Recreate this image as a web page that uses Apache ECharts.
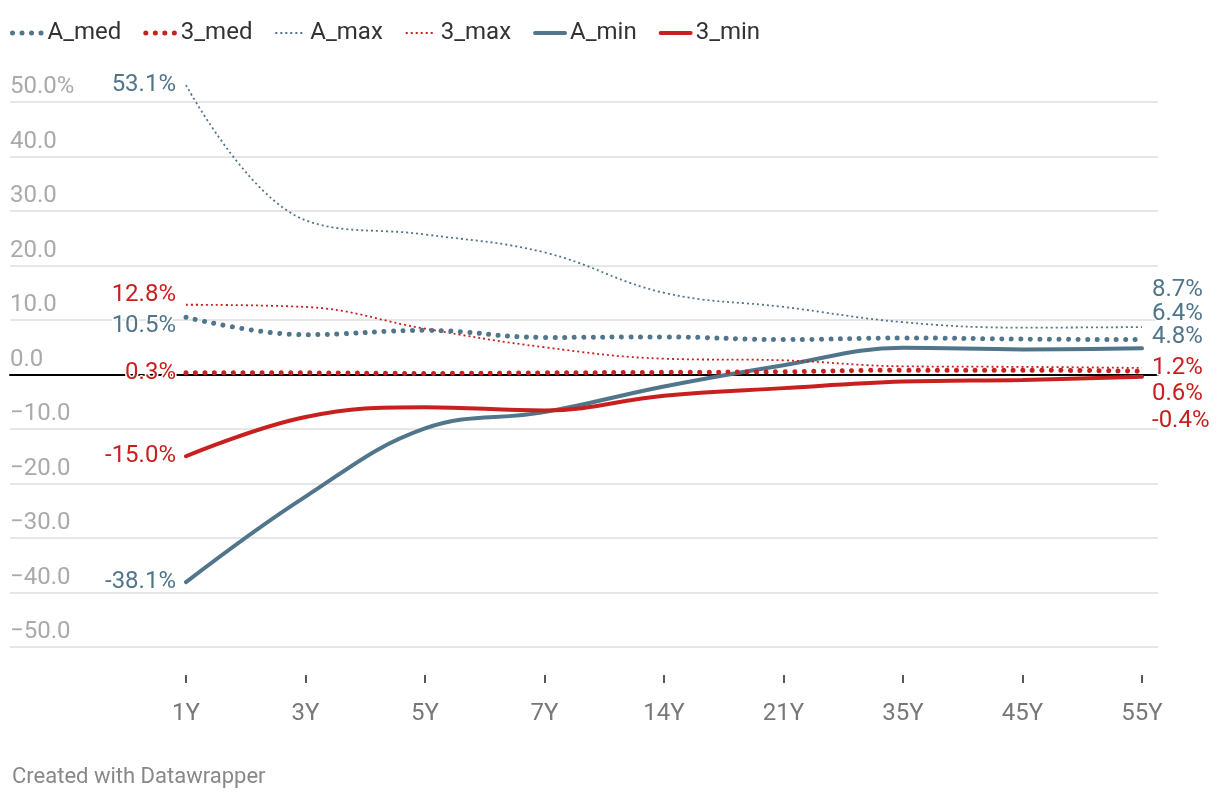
<!DOCTYPE html>
<html>
<head>
<meta charset="utf-8">
<script src="https://cdn.jsdelivr.net/npm/echarts@6/dist/echarts.min.js"></script>
<style>
html,body{margin:0;padding:0;background:#fff;}
#chart{width:1220px;height:802px;}
</style>
</head>
<body>
<div id="chart"></div>
<script>
const categories = ['1Y','3Y','5Y','7Y','14Y','21Y','35Y','45Y','55Y'];
const A_med = [10.5, 7.3, 8.1, 6.8, 6.9, 6.4, 6.7, 6.5, 6.4];
const med3  = [0.3, 0.3, 0.2, 0.3, 0.4, 0.5, 0.8, 0.8, 0.6];
const A_max = [53.1, 28.3, 25.7, 22.4, 15.0, 12.4, 9.6, 8.6, 8.7];
const max3  = [12.8, 12.4, 8.4, 5.0, 2.9, 2.6, 1.5, 1.4, 1.2];
const A_min = [-38.1, -22.4, -9.9, -6.9, -2.2, 1.7, 4.9, 4.6, 4.8];
const min3  = [-15.0, -7.8, -6.0, -6.6, -3.9, -2.5, -1.3, -1.0, -0.4];
const yTicks = [-50, -40, -30, -20, -10, 0, 10, 20, 30, 40, 50];

const BLUE = '#51758a';
const RED = '#c8201e';
const FONT = 'Roboto';
const FS = 24;

function lineStyleFor(kind, color) {
  if (kind === 'thickDot') return {color: color, width: 5, type: [0.01, 9.5], cap: 'round'};
  if (kind === 'thinDot') return {color: color, width: 1.8, type: [2, 3], cap: 'butt'};
  return {color: color, width: 4, type: 'solid', cap: 'round'};
}

function mkData(arr, startOff, endOff) {
  const last = arr.length - 1;
  return arr.map(function (v, i) {
    if (i === 0) return {value: v, label: {show: true, position: 'left', distance: 10, offset: [0, startOff]}};
    if (i === last) return {value: v, label: {show: true, position: 'right', distance: 10, offset: [0, endOff]}};
    return v;
  });
}

function mkSeries(name, arr, color, kind, startOff, endOff, z) {
  return {
    name: name, type: 'line', xAxisIndex: 1, yAxisIndex: 1,
    data: mkData(arr, startOff, endOff),
    smooth: 0.4, clip: false,
    symbol: 'circle', symbolSize: 0.001, showSymbol: true,
    itemStyle: {color: color},
    lineStyle: lineStyleFor(kind, color),
    z: z,
    label: {show: false, color: color, fontFamily: FONT, fontSize: FS,
      textBorderColor: '#fff', textBorderWidth: 3,
      formatter: function (p) { return p.value.toFixed(1) + '%'; }},
    emphasis: {disabled: true}
  };
}

const legendDefs = [
  ['A_med', BLUE, 'thickDot'], ['3_med', RED, 'thickDot'],
  ['A_max', BLUE, 'thinDot'], ['3_max', RED, 'thinDot'],
  ['A_min', BLUE, 'solid'], ['3_min', RED, 'solid']
];

const chart = echarts.init(document.getElementById('chart'), null, {renderer: 'canvas'});
chart.setOption({
  animation: false,
  backgroundColor: '#fff',
  textStyle: {fontFamily: FONT},
  title: {text: 'Created with Datawrapper', left: 7, top: 761,
    textStyle: {fontFamily: FONT, fontSize: 22, fontWeight: 'normal', color: '#888'}},
  legend: {
    left: 5, top: 16, itemWidth: 30, itemHeight: 14, itemGap: 22,
    itemStyle: {opacity: 0},
    textStyle: {fontFamily: FONT, fontSize: FS, color: '#333'},
    data: legendDefs.map(function (d) {
      return {name: d[0], lineStyle: lineStyleFor(d[2], d[1]), itemStyle: {opacity: 0}};
    })
  },
  grid: [
    {left: 10, right: 62, top: 102, bottom: 155},
    {left: 186, right: 78, top: 102, bottom: 155}
  ],
  xAxis: [
    {gridIndex: 0, type: 'value', min: 0, max: 1,
      axisLine: {show: true, onZero: true, lineStyle: {color: '#000', width: 2}},
      axisTick: {show: false}, axisLabel: {show: false}, splitLine: {show: false}},
    {gridIndex: 1, type: 'category', data: categories, boundaryGap: false, offset: 28,
      axisLine: {show: true, onZero: false, lineStyle: {color: 'rgba(0,0,0,0)', width: 0}},
      axisTick: {show: true, length: 8, lineStyle: {color: '#222', width: 1.5}},
      axisLabel: {margin: 27, color: '#777', fontFamily: FONT, fontSize: FS},
      splitLine: {show: false}}
  ],
  yAxis: [
    {gridIndex: 0, type: 'value', min: yTicks[0], max: yTicks[yTicks.length - 1], interval: 10,
      axisLine: {show: false}, axisTick: {show: false},
      splitLine: {show: true, lineStyle: {color: '#e6e6e6', width: 2}},
      axisLabel: {inside: true, margin: 0, align: 'left', verticalAlign: 'bottom',
        padding: [0, 0, 3, 0],
        color: '#aaa', fontFamily: FONT, fontSize: FS,
        formatter: function (v) {
          if (v === 50) return '50.0%';
          if (v < 0) return '\u2212' + Math.abs(v).toFixed(1);
          return v.toFixed(1);
        }}},
    {gridIndex: 1, type: 'value', min: yTicks[0], max: yTicks[yTicks.length - 1], show: false}
  ],
  series: [
    mkSeries('A_med', A_med, BLUE, 'thickDot', 9, -26, 5),
    mkSeries('3_med', med3, RED, 'thickDot', 0, 23, 6),
    mkSeries('A_max', A_max, BLUE, 'thinDot', 0, -37, 3),
    mkSeries('3_max', max3, RED, 'thinDot', -10, 0, 4),
    mkSeries('A_min', A_min, BLUE, 'solid', 0, -11, 2),
    mkSeries('3_min', min3, RED, 'solid', 0, 44, 2)
  ]
});
</script>
</body>
</html>
